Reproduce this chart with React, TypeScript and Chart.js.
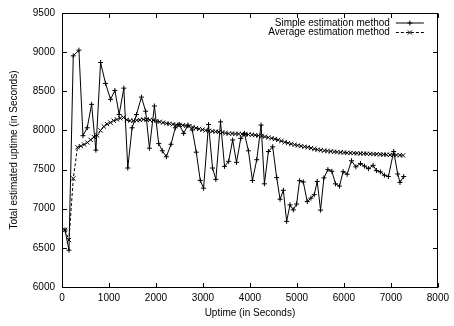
import React, { useEffect, useRef } from 'react';
import { Chart, registerables } from 'chart.js';

Chart.register(...registerables);

const seriesLabels = ['Simple estimation method', 'Average estimation method'];
const xTitle = 'Uptime (in Seconds)';
const yTitle = 'Total estimated uptime (in Seconds)';

const xTicks = [0, 1000, 2000, 3000, 4000, 5000, 6000, 7000, 8000];
const yTicks = [6000, 6500, 7000, 7500, 8000, 8500, 9000, 9500];

const simpleX = [
  64, 148, 240, 360, 446, 537, 630, 721, 821, 927, 1033, 1125, 1216, 1316, 1400, 1492,
  1585, 1691, 1780, 1861, 1967, 2058, 2136, 2221, 2320, 2412, 2497, 2589, 2681, 2773,
  2858, 2943, 3013, 3119, 3204, 3275, 3374, 3459, 3547, 3632, 3714, 3805, 3883, 3968,
  4053, 4145, 4238, 4308, 4393, 4484, 4569, 4641, 4711, 4781, 4853, 4923, 4993, 5057,
  5135, 5220, 5298, 5369, 5432, 5503, 5574, 5659, 5744, 5821, 5906, 5984, 6069, 6161,
  6254, 6352, 6437, 6522, 6621, 6692, 6777, 6862, 6947, 7060, 7145, 7194, 7272,
];
const simpleY = [
  6730, 6470, 8953, 9025, 7933, 8034, 8333, 7748, 8868, 8600, 8397, 8511, 8203, 8540, 7520, 8034,
  8203, 8426, 8245, 7773, 8312, 7832, 7740, 7664, 7823, 8034, 8076, 7962, 8068, 8005,
  7722, 7361, 7262, 8076, 7520, 7374, 8110, 7541, 7605, 7878, 7592, 7899, 7962, 7740,
  7361, 7626, 8068, 7318, 7731, 7791, 7398, 7121, 7235, 6838, 7049, 6985, 7060, 7358,
  7342, 7091, 7135, 7180, 7348, 6982, 7394, 7499, 7478, 7318, 7289, 7474, 7440, 7613,
  7535, 7577, 7545, 7512, 7554, 7487, 7470, 7428, 7411, 7731, 7444, 7336, 7411,
];

const avgX = [
  64, 148, 240, 330, 400, 470, 540, 610, 680, 750, 820, 890, 960, 1030, 1100, 1170,
  1240, 1310, 1380, 1450, 1520, 1590, 1660, 1730, 1800, 1870, 1940, 2010, 2080, 2150,
  2220, 2290, 2360, 2430, 2500, 2570, 2640, 2710, 2780, 2850, 2920, 2990, 3060, 3130,
  3200, 3270, 3340, 3410, 3480, 3550, 3620, 3690, 3760, 3830, 3900, 3970, 4040, 4110,
  4180, 4250, 4320, 4390, 4460, 4530, 4600, 4670, 4740, 4810, 4880, 4950, 5020, 5090,
  5160, 5230, 5300, 5370, 5440, 5510, 5580, 5650, 5720, 5790, 5860, 5930, 6000, 6070,
  6140, 6210, 6280, 6350, 6420, 6490, 6560, 6630, 6700, 6770, 6840, 6910, 6980, 7050,
  7120, 7190, 7260,
];
const avgY = [
  6730, 6600, 7386, 7785, 7800, 7820, 7845, 7880, 7915, 7935, 8000, 8050, 8080, 8100, 8125, 8140,
  8155, 8165, 8135, 8125, 8125, 8130, 8135, 8140, 8140, 8135, 8130, 8120, 8110, 8100,
  8090, 8085, 8078, 8072, 8070, 8065, 8060, 8055, 8042, 8030, 8020, 8010, 8000, 7995,
  7990, 7985, 7980, 7975, 7966, 7960, 7960, 7956, 7955, 7954, 7950, 7948, 7945, 7940,
  7935, 7930, 7920, 7910, 7900, 7890, 7880, 7865, 7850, 7838, 7828, 7818, 7808, 7800,
  7792, 7785, 7775, 7764, 7754, 7747, 7742, 7737, 7732, 7728, 7724, 7720, 7717, 7714,
  7712, 7710, 7708, 7706, 7704, 7702, 7700, 7698, 7696, 7694, 7692, 7690, 7688, 7687,
  7685, 7683, 7681,
];

const FONT = '"Liberation Sans", Arial, Helvetica, sans-serif';

function drawMarker(ctx: CanvasRenderingContext2D, style: string, x: number, y: number, r: number) {
  ctx.beginPath();
  if (style === 'cross') {
    ctx.moveTo(x - r, y);
    ctx.lineTo(x + r, y);
    ctx.moveTo(x, y - r);
    ctx.lineTo(x, y + r);
  } else {
    const d = r * 0.7071;
    ctx.moveTo(x - d, y - d);
    ctx.lineTo(x + d, y + d);
    ctx.moveTo(x - d, y + d);
    ctx.lineTo(x + d, y - d);
  }
  ctx.stroke();
}

const framePlugin = {
  id: 'gnuFrame',
  beforeDatasetsDraw(chart: any) {
    const ctx = chart.ctx as CanvasRenderingContext2D;
    const { left, right, top, bottom } = chart.chartArea;
    const L = Math.round(left) + 0.5;
    const R = Math.round(right) - 0.5;
    const T = Math.round(top) + 0.5;
    const B = Math.round(bottom) + 0.5;
    ctx.save();
    ctx.strokeStyle = '#000';
    ctx.lineWidth = 1;
    ctx.setLineDash([]);
    ctx.strokeRect(L, T, R - L, B - T);
    const tl = 4.5;
    const xs = chart.scales.x;
    const ys = chart.scales.y;
    ctx.beginPath();
    xTicks.forEach((v) => {
      const px = Math.round(xs.getPixelForValue(v)) + 0.5;
      ctx.moveTo(px, B);
      ctx.lineTo(px, B - tl);
      ctx.moveTo(px, T);
      ctx.lineTo(px, T + tl);
    });
    yTicks.forEach((v) => {
      const py = Math.round(ys.getPixelForValue(v)) + 0.5;
      ctx.moveTo(L, py);
      ctx.lineTo(L + tl, py);
      ctx.moveTo(R, py);
      ctx.lineTo(R - tl, py);
    });
    ctx.stroke();
    ctx.restore();
  },
};

const legendPlugin = {
  id: 'gnuLegend',
  afterDraw(chart: any) {
    const ctx = chart.ctx as CanvasRenderingContext2D;
    ctx.save();
    ctx.font = `10px ${FONT}`;
    ctx.fillStyle = '#000';
    ctx.textAlign = 'right';
    ctx.textBaseline = 'middle';
    const textRight = chart.chartArea.right - 48;
    const x0 = chart.chartArea.right - 42;
    const x1 = chart.chartArea.right - 14;
    chart.data.datasets.forEach((ds: any, i: number) => {
      const y = chart.chartArea.top + 10 + i * 9.5;
      ctx.fillText(ds.label, textRight, y);
      ctx.strokeStyle = '#000';
      ctx.lineWidth = 1;
      ctx.setLineDash(ds.borderDash || []);
      ctx.beginPath();
      ctx.moveTo(x0, y);
      ctx.lineTo(x1, y);
      ctx.stroke();
      ctx.setLineDash([]);
      drawMarker(ctx, ds.pointStyle, (x0 + x1) / 2, y, ds.pointRadius);
    });
    ctx.restore();
  },
};

export default function App() {
  const ref = useRef<HTMLCanvasElement | null>(null);

  useEffect(() => {
    if (!ref.current) return;
    const tickFont = { family: FONT, size: 10 };
    const chart = new Chart(ref.current, {
      type: 'line',
      data: {
        datasets: [
          {
            label: seriesLabels[0],
            data: simpleX.map((x, i) => ({ x, y: simpleY[i] })),
            borderColor: '#000',
            backgroundColor: '#000',
            borderWidth: 1,
            pointStyle: 'cross',
            pointRadius: 2.5,
            pointBorderWidth: 1,
            pointBorderColor: '#000',
            pointHoverRadius: 2.5,
            fill: false,
            tension: 0,
            order: 1,
          },
          {
            label: seriesLabels[1],
            data: avgX.map((x, i) => ({ x, y: avgY[i] })),
            borderColor: '#000',
            backgroundColor: '#000',
            borderWidth: 1,
            borderDash: [3, 2],
            pointStyle: 'crossRot',
            pointRadius: 3,
            pointBorderWidth: 1,
            pointBorderColor: '#000',
            pointHoverRadius: 3,
            fill: false,
            tension: 0,
            order: 0,
          },
        ] as any,
      },
      options: {
        animation: false,
        responsive: true,
        maintainAspectRatio: false,
        devicePixelRatio: 1,
        events: [],
        layout: { padding: { left: 0, right: 14, top: 10, bottom: 0 } },
        plugins: {
          legend: { display: false },
          tooltip: { enabled: false },
        },
        scales: {
          x: {
            type: 'linear',
            min: 0,
            max: 8000,
            afterBuildTicks: (s: any) => {
              s.ticks = xTicks.map((v) => ({ value: v }));
            },
            afterFit: (s: any) => {
              s.height = 39;
            },
            grid: { display: false, drawTicks: false },
            border: { display: false },
            ticks: {
              color: '#000',
              font: tickFont,
              padding: 5,
              maxRotation: 0,
              autoSkip: false,
              callback: (v: any) => String(v),
            },
            title: {
              display: true,
              text: xTitle,
              color: '#000',
              font: tickFont,
              padding: { top: 0, bottom: 7 },
            },
          },
          y: {
            type: 'linear',
            min: 6000,
            max: 9500,
            afterBuildTicks: (s: any) => {
              s.ticks = yTicks.map((v) => ({ value: v }));
            },
            afterFit: (s: any) => {
              s.width = 62;
            },
            grid: { display: false, drawTicks: false },
            border: { display: false },
            ticks: {
              color: '#000',
              font: tickFont,
              padding: 7,
              autoSkip: false,
              callback: (v: any) => String(v),
            },
            title: {
              display: true,
              text: yTitle,
              color: '#000',
              font: tickFont,
              padding: { top: 8, bottom: 0 },
            },
          },
        },
      } as any,
      plugins: [framePlugin, legendPlugin],
    });
    return () => chart.destroy();
  }, []);

  return (
    <div style={{ position: 'fixed', left: 0, top: 0, width: 454, height: 326, background: '#fff' }}>
      <canvas ref={ref} />
    </div>
  );
}
